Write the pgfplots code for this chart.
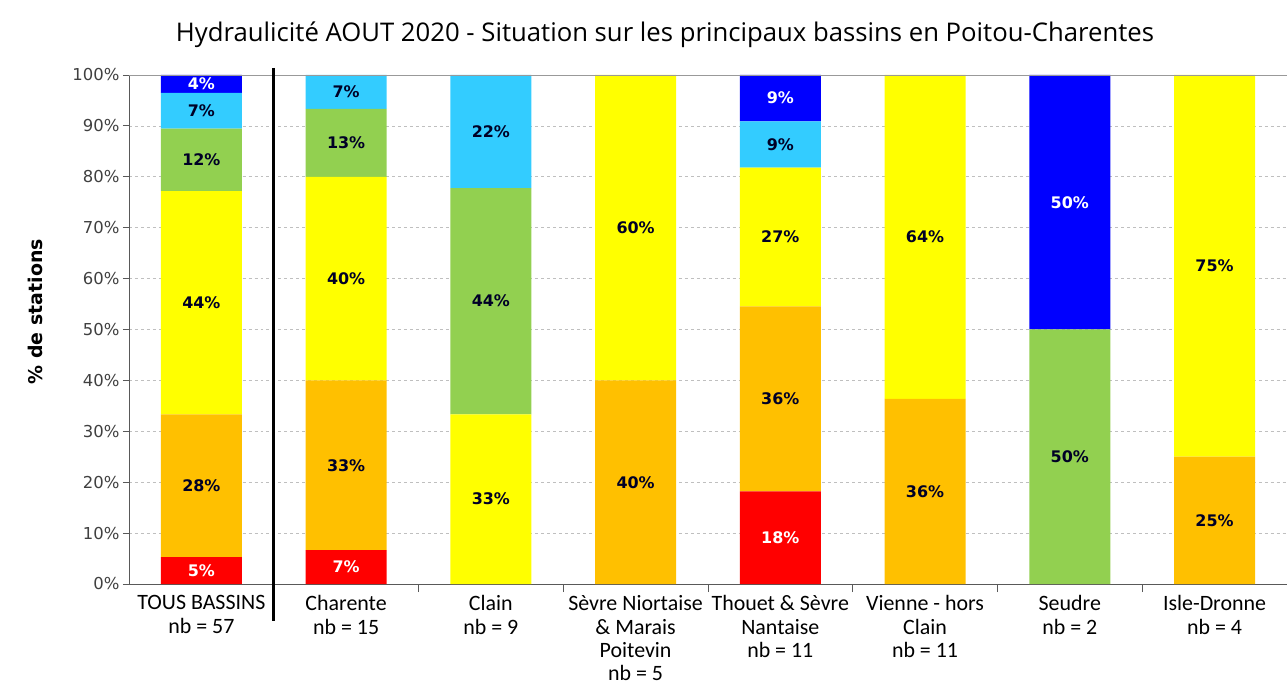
\documentclass[border=0pt]{standalone}
\usepackage{fontspec}
\setmainfont{Carlito}
\newfontfamily\dvs{DejaVu Sans}
\newfontfamily\ttl{Open Sans}
\usepackage{pgfplots}
\pgfplotsset{compat=1.18}

\definecolor{cRed}{HTML}{FF0000}
\definecolor{cOrange}{HTML}{FFC000}
\definecolor{cYellow}{HTML}{FFFF00}
\definecolor{cGreen}{HTML}{92D050}
\definecolor{cLBlue}{HTML}{33CCFF}
\definecolor{cBlue}{HTML}{0000FF}

% shares of stations per class (%), x = 0..7
\pgfplotstableread{
x red orange yellow green lblue blue
0 5.263 28.070 43.860 12.281 7.018 3.509
1 6.667 33.333 40.000 13.333 6.667 0
2 0 0 33.333 44.444 22.222 0
3 0 40.000 60.000 0 0 0
4 18.182 36.364 27.273 0 9.091 9.091
5 0 36.364 63.636 0 0 0
6 0 0 0 50.000 0 50.000
7 0 25.000 75.000 0 0 0
}\shares

% label positions (middle of each segment)
\pgfplotstableread{
x y lab
0 19.30 28
0 55.26 44
0 83.33 12
0 92.98 7
1 23.33 33
1 60.00 40
1 86.67 13
1 96.67 7
2 16.67 33
2 55.56 44
2 88.89 22
3 20.00 40
3 70.00 60
4 36.36 36
4 68.18 27
4 86.36 9
5 18.18 36
5 68.18 64
6 25.00 50
7 12.50 25
7 62.50 75
}\darklabels

\pgfplotstableread{
x y lab
0 2.63 5
0 98.25 4
1 3.33 7
4 9.09 18
4 95.45 9
6 75.00 50
}\whitelabels

\pgfplotsset{
  common/.style={
    scale only axis, width=1158bp, height=509bp,
    xmin=-0.5, xmax=7.5, ymin=0, ymax=100,
  },
  lbl/.style={
    only marks, mark=*, mark size=0pt, mark options={draw=none,fill=none},
    nodes near coords={\pgfplotspointmeta\%},
    point meta=explicit symbolic,
    every node near coord/.append style={anchor=center, inner sep=0pt,
      font=\dvs\bfseries\fontsize{16}{18}\selectfont, text=#1},
  },
}

\begin{document}
\begin{tikzpicture}
\begin{axis}[
    common,
    ybar stacked, bar width=81bp,
    axis x line*=bottom, axis y line*=left,
    axis line style={-, draw=black!65, line width=0.9bp},
    xtick={0,...,7},
    xticklabels={
      {TOUS BASSINS\\nb = 57},
      {Charente\\nb = 15},
      {Clain\\nb = 9},
      {Sèvre Niortaise\\\& Marais\\Poitevin\\nb = 5},
      {Thouet \& Sèvre\\Nantaise\\nb = 11},
      {Vienne - hors\\Clain\\nb = 11},
      {Seudre\\nb = 2},
      {Isle-Dronne\\nb = 4}},
    xticklabel style={align=center, font=\fontsize{22}{23.5}\selectfont, text=black, yshift=-2bp},
    major x tick style={draw=none},
    minor xtick={0.5,1.5,...,7.5},
    minor tick length=8bp,
    tick align=outside,
    ytick={0,10,...,100},
    yticklabels={0\%,10\%,20\%,30\%,40\%,50\%,60\%,70\%,80\%,90\%,100\%},
    yticklabel style={font=\dvs\fontsize{16.5}{18}\selectfont, text=black!75},
    major tick length=6bp,
    tick style={draw=black!65, line width=0.8bp},
    ymajorgrids,
    grid style={dashed, draw=black!25, line width=0.6bp},
    ylabel={\% de stations},
    ylabel style={at={(axis description cs:-0.0812,0.535)}, anchor=center,
      font=\dvs\bfseries\fontsize{19}{22}\selectfont},
    title={Hydraulicité AOUT 2020 - Situation sur les principaux bassins en Poitou-Charentes},
    title style={at={(axis description cs:0.4629,1.067)}, anchor=center,
      font=\ttl\fontsize{25.8}{28}\selectfont},
    clip=false,
]
\addplot[fill=cRed, draw=none] table[x=x, y=red] {\shares};
\addplot[fill=cOrange, draw=none] table[x=x, y=orange] {\shares};
\addplot[fill=cYellow, draw=none] table[x=x, y=yellow] {\shares};
\addplot[fill=cGreen, draw=none] table[x=x, y=green] {\shares};
\addplot[fill=cLBlue, draw=none] table[x=x, y=lblue] {\shares};
\addplot[fill=cBlue, draw=none] table[x=x, y=blue] {\shares};
\end{axis}

\begin{axis}[common, hide axis, clip=false]
\draw[black!40, line width=0.8bp] (axis cs:-0.5,100) -- (axis cs:7.5,100);
\draw[black, line width=2.6bp] (axis cs:0.5,101.4) -- (axis cs:0.5,-7.2);
\addplot[lbl=black!85!blue] table[x=x, y=y, meta=lab] {\darklabels};
\addplot[lbl=white] table[x=x, y=y, meta=lab] {\whitelabels};
\end{axis}
\pgfresetboundingbox
\path[use as bounding box] (-129bp,-106bp) rectangle (1158bp,584bp);
\end{tikzpicture}
\end{document}
